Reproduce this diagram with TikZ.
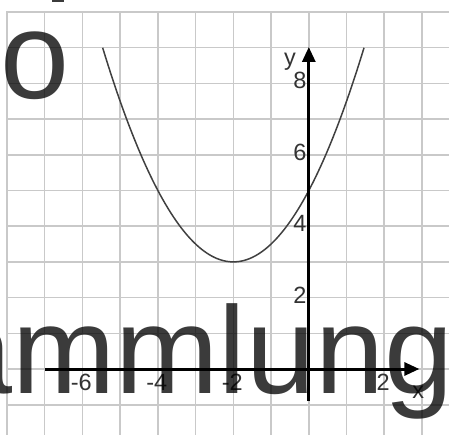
\documentclass[tikz,border=0pt]{standalone}
\usepackage{fontspec}
\newfontfamily\labfont{Liberation Sans}
\newfontfamily\wmfont{Liberation Sans}
\usetikzlibrary{arrows.meta}
\begin{document}
\begin{tikzpicture}[x=1pt,y=-1pt,
  gridline/.style={draw=black!21, line width=1.6pt},
  axisline/.style={draw=black, line width=3pt, -{Triangle[length=15pt,width=13pt]}},
  curveline/.style={draw=black!75, line width=1.5pt},
  ticklab/.style={font=\labfont\fontsize{23.5}{23.5}\selectfont, inner sep=0pt, text=black!80},
  wm/.style={font=\wmfont\fontsize{124}{124}\selectfont, inner sep=0pt, text=black, text opacity=0.77}]
\useasboundingbox (0,0) rectangle (449,435);
\begin{scope}[shift={(308.8,369)}, x=37.73pt, y=35.7pt]
  % grid
  \foreach \i in {-8,...,3} \draw[gridline] (\i,10.02) -- (\i,-1.95);
  \foreach \j in {-1,...,10} \draw[gridline] (-8.02,\j) -- (3.8,\j);
  % parabola
  \draw[curveline] plot[domain=-5.464:1.464, samples=90, smooth] ({\x},{0.5*(\x+2)^2+3});
  % axes
  \coordinate (xs) at (-7,0);
  \coordinate (xe) at (2.93,0);
  \coordinate (ys) at (0,-0.9);
  \coordinate (ye) at (0,9.02);
  \draw[axisline] (xs) -- (xe);
  \draw[axisline] (ys) -- (ye);
  % tick labels
  \foreach \v in {-6,-4,-2,2} \node[ticklab, anchor=north] (lx\v) at (\v-0.03,-0.15) {\v};
  \foreach \v in {2,4,6,8} \node[ticklab, anchor=east] (ly\v) at (-0.06,\v+0.07) {\v};
  \node[ticklab] (ylab) at (-0.5,8.6) {y};
  \node[ticklab] (xlab) at (2.9,-0.66) {x};
\end{scope}
% overlaid large text
\node[wm, anchor=base west] (wo) at (0.6,99) {o};
\node[wm, anchor=base west] (wa) at (-57,393) {ammlung};
\fill[black, opacity=0.77] (52,0) rectangle (64,2.5);
\end{tikzpicture}
\end{document}
